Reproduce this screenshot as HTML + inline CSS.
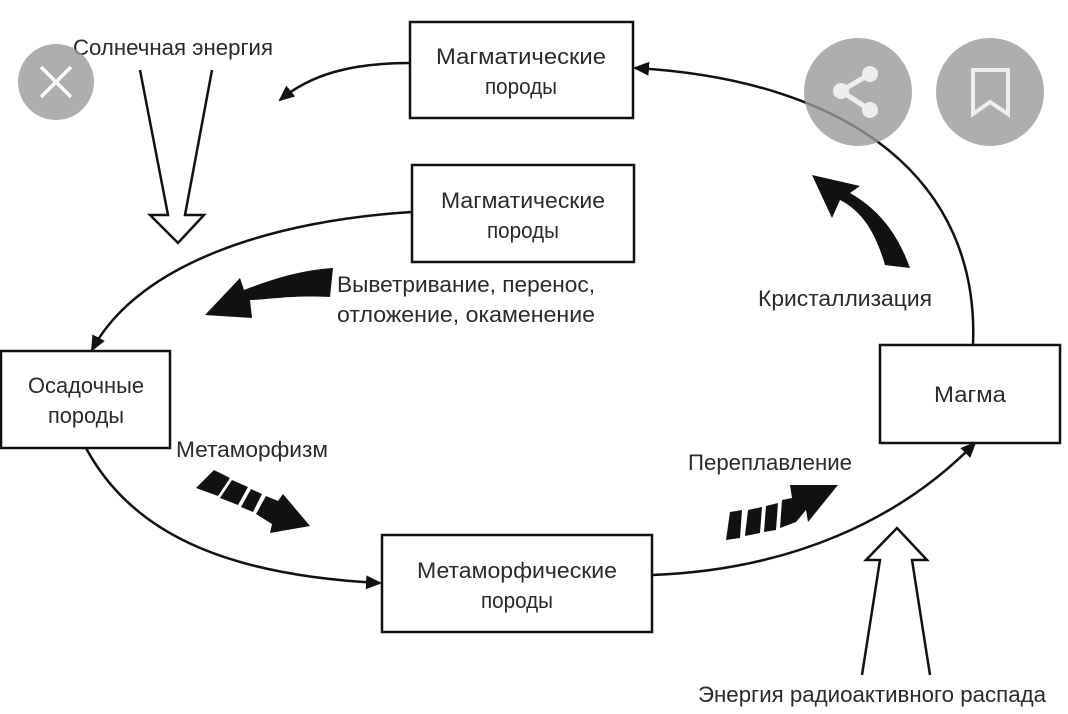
<!DOCTYPE html>
<html><head><meta charset="utf-8"><style>
html,body{margin:0;padding:0;background:#fff;width:1068px;height:714px;overflow:hidden}
svg{display:block}
text{font-family:"Liberation Sans",sans-serif;fill:#2a2a2a;font-size:22px}
</style></head><body>
<svg width="1068" height="714" viewBox="0 0 1068 714" xmlns="http://www.w3.org/2000/svg">
<defs>
<marker id="ah" markerWidth="16" markerHeight="14" refX="14" refY="7" orient="auto" markerUnits="userSpaceOnUse">
<path d="M0,0 L16,7 L0,14 Z" fill="#111"/></marker>
</defs>
<g fill="none" stroke="#111" stroke-width="2.5">
<rect x="410" y="22" width="223" height="96"/>
<rect x="412" y="165" width="222" height="97"/>
<rect x="1" y="351" width="169" height="97"/>
<rect x="382" y="535" width="270" height="97"/>
<rect x="880" y="345" width="180" height="98"/>
<path d="M410,63 C350,63 310,75 280,100" marker-end="url(#ah)"/>
<path d="M412,212 C280,220 140,260 92,350" marker-end="url(#ah)"/>
<path d="M86,448 C130,530 220,575 380,583" marker-end="url(#ah)"/>
<path d="M652,575 C790,570 900,520 975,443" marker-end="url(#ah)"/>
<path d="M973,345 C980,180 850,80 635,68" marker-end="url(#ah)"/>
<path d="M140,70 L168,215 L150,215 L178,243 L204,215 L185,215 L212,70"/>
<path d="M862,675 L880,560 L866,560 L897,528 L927,560 L912,560 L930,675"/>
</g>
<g fill="#111">
<path d="M333,268 L330,297 C290,295 265,300 250,300 L252,318 L205,315 L240,278 L244,290 C270,280 300,270 333,268 Z"/>
<path d="M910,268 L885,265 C875,230 860,210 840,200 L832,218 L812,175 L860,186 L850,193 C880,210 898,235 910,268 Z"/>
<path d="M196,488 L214,470 L230,478 L218,496 Z"/>
<path d="M220,498 L232,480 L248,487 L238,505 Z"/>
<path d="M241,507 L251,489 L262,494 L253,512 Z"/>
<path d="M256,514 L266,496 L278,501 L283,494 L310,526 L270,533 L272,524 Z"/>
<path d="M726,540 L730,512 L742,510 L740,538 Z"/>
<path d="M745,536 L748,510 L762,507 L760,533 Z"/>
<path d="M764,532 L766,506 L778,503 L776,530 Z"/>
<path d="M780,528 L782,500 L792,498 L790,485 L838,485 L808,522 L806,510 L796,522 Z"/>
</g>
<text x="521" y="64" text-anchor="middle" textLength="170" lengthAdjust="spacingAndGlyphs">Магматические</text>
<text x="521" y="94" text-anchor="middle" textLength="72" lengthAdjust="spacingAndGlyphs">породы</text>
<text x="523" y="208" text-anchor="middle" textLength="164" lengthAdjust="spacingAndGlyphs">Магматические</text>
<text x="523" y="238" text-anchor="middle" textLength="72" lengthAdjust="spacingAndGlyphs">породы</text>
<text x="86" y="393" text-anchor="middle" textLength="116" lengthAdjust="spacingAndGlyphs">Осадочные</text>
<text x="86" y="423" text-anchor="middle" textLength="76" lengthAdjust="spacingAndGlyphs">породы</text>
<text x="517" y="578" text-anchor="middle" textLength="200" lengthAdjust="spacingAndGlyphs">Метаморфические</text>
<text x="517" y="608" text-anchor="middle" textLength="72" lengthAdjust="spacingAndGlyphs">породы</text>
<text x="970" y="402" text-anchor="middle" textLength="72" lengthAdjust="spacingAndGlyphs">Магма</text>
<text x="73" y="55" textLength="200" lengthAdjust="spacingAndGlyphs">Солнечная энергия</text>
<text x="337" y="292" textLength="258" lengthAdjust="spacingAndGlyphs">Выветривание, перенос,</text>
<text x="337" y="322" textLength="258" lengthAdjust="spacingAndGlyphs">отложение, окаменение</text>
<text x="758" y="306" textLength="174" lengthAdjust="spacingAndGlyphs">Кристаллизация</text>
<text x="176" y="457" textLength="152" lengthAdjust="spacingAndGlyphs">Метаморфизм</text>
<text x="688" y="470" textLength="164" lengthAdjust="spacingAndGlyphs">Переплавление</text>
<text x="698" y="702" textLength="348" lengthAdjust="spacingAndGlyphs">Энергия радиоактивного распада</text>
<circle cx="56" cy="82" r="38" fill="#9a9a9a" opacity="0.8"/>
<path d="M41,67 L71,97 M71,67 L41,97" stroke="#fff" stroke-width="3.5"/>
<circle cx="858" cy="92" r="54" fill="#9a9a9a" opacity="0.8"/>
<g stroke="#eee" stroke-width="5"><line x1="870" y1="74" x2="841" y2="91"/><line x1="841" y1="91" x2="870" y2="110"/></g>
<circle cx="870" cy="74" r="8" fill="#eee"/><circle cx="841" cy="91" r="8" fill="#eee"/><circle cx="870" cy="110" r="8" fill="#eee"/>
<circle cx="990" cy="92" r="54" fill="#9a9a9a" opacity="0.8"/>
<path d="M973,70 L1008,70 L1008,114 L990,102 L973,114 Z" fill="none" stroke="#eee" stroke-width="4"/>
</svg>
</body></html>
